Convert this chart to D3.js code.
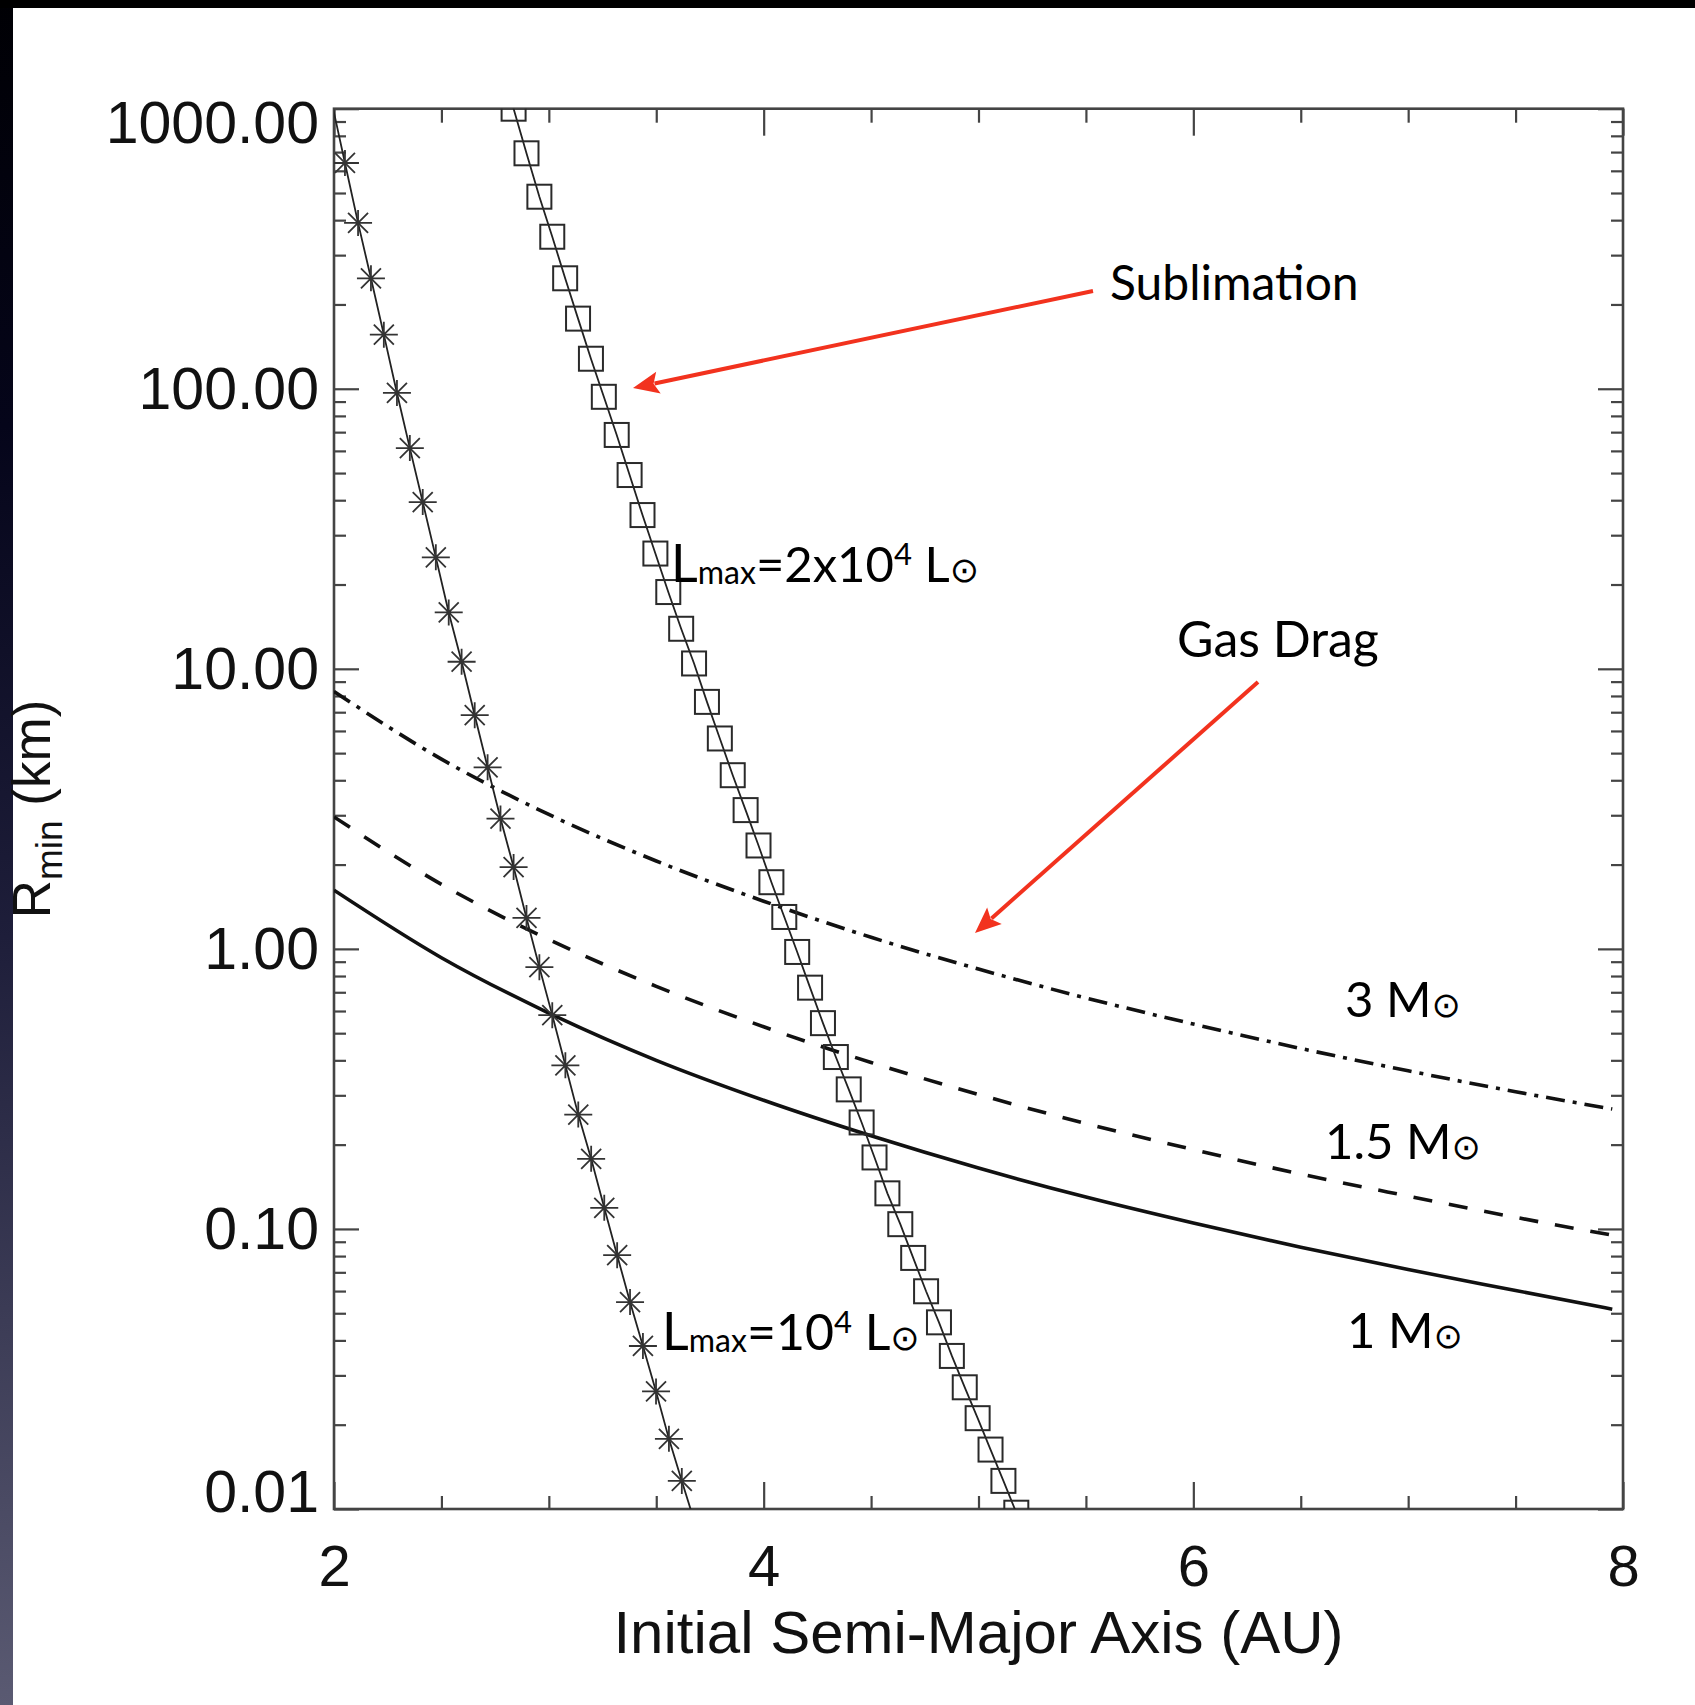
<!DOCTYPE html>
<html><head><meta charset="utf-8">
<script src="https://cdn.jsdelivr.net/npm/d3@7"></script>
<style>html,body{margin:0;padding:0;background:#fff;overflow:hidden}</style>
</head><body>
<svg id="chart" width="1695" height="1705"></svg>
<script>
// ---------------- data ----------------
const xMajorTicks = [2, 4, 6, 8];
const xTickLabels = ["2", "4", "6", "8"];
const xMinorTicks = [2.5, 3, 3.5, 4.5, 5, 5.5, 6.5, 7, 7.5];
const yMajorTicks = [0.01, 0.1, 1, 10, 100, 1000];
const yTickLabels = ["0.01", "0.10", "1.00", "10.00", "100.00", "1000.00"];

// gas drag curves
const gasA   = [2.0, 2.5, 3.0, 3.5, 4.0, 4.5, 5.0, 5.5, 6.0, 6.5, 7.0, 7.5, 7.95];
const gas1M  = [1.62, 0.93, 0.59, 0.40, 0.288, 0.215, 0.165, 0.130, 0.105, 0.086, 0.0716, 0.0603, 0.0517];
const gas15M = [2.96, 1.70, 1.08, 0.735, 0.527, 0.393, 0.302, 0.238, 0.192, 0.157, 0.131, 0.110, 0.095];
const gas3M  = [8.3, 4.76, 3.02, 2.06, 1.48, 1.10, 0.847, 0.668, 0.539, 0.441, 0.367, 0.309, 0.268];

// sublimation, Lmax = 1e4 Lsun (asterisks)
const sub1A = [2.051, 2.112, 2.172, 2.232, 2.293, 2.353, 2.413, 2.474, 2.534, 2.594, 2.655, 2.715, 2.775, 2.836,
               2.896, 2.956, 3.016, 3.077, 3.137, 3.197, 3.258, 3.318, 3.378, 3.438, 3.499, 3.559, 3.619];
const sub1R = [640, 391, 248, 156, 96.6, 61.4, 39.4, 25.0, 15.9, 10.6, 6.83, 4.45, 2.92, 1.96,
               1.29, 0.860, 0.580, 0.384, 0.256, 0.178, 0.119, 0.0806, 0.0548, 0.0382, 0.0263, 0.0178, 0.0126];
const sub1LineEndsA = [1.99, 3.68];
const sub1LineEndsR = [1050, 0.0089];

// sublimation, Lmax = 2e4 Lsun (squares)
const sub2A = [2.836, 2.896, 2.956, 3.016, 3.076, 3.136, 3.196, 3.256, 3.316, 3.376, 3.436, 3.496, 3.556, 3.616,
               3.676, 3.736, 3.796, 3.856, 3.916, 3.976, 4.036, 4.096, 4.156, 4.216, 4.276, 4.336, 4.396, 4.456,
               4.516, 4.576, 4.636, 4.696, 4.756, 4.816, 4.876, 4.936, 4.996, 5.056, 5.116, 5.176];
const sub2R = [1000, 693, 485, 349, 248, 178, 128, 93.6, 68.4, 49.2, 35.4, 25.8, 18.8, 13.9,
               10.45, 7.62, 5.64, 4.17, 3.13, 2.34, 1.73, 1.30, 0.975, 0.727, 0.543, 0.411, 0.315, 0.240,
               0.180, 0.134, 0.104, 0.0788, 0.0599, 0.0464, 0.0352, 0.0272, 0.0211, 0.0163, 0.0126, 0.0097];
const sub2LineEndsA = [2.776, 5.236];
const sub2LineEndsR = [1445, 0.0075];

// ---------------- layout ----------------
const svg = d3.select("#chart");
const L = 334, R = 1623, T = 108.7, B = 1509;
const x = d3.scaleLinear().domain([2, 8]).range([L, R]);
const y = d3.scaleLog().domain([0.01, 1000]).range([B, T]);
const AXC = "#444";

// background frame
const defs = svg.append("defs");
const lg = defs.append("linearGradient").attr("id", "leftgrad").attr("x1", 0).attr("y1", 0).attr("x2", 0).attr("y2", 1);
lg.append("stop").attr("offset", "0%").attr("stop-color", "#000004");
lg.append("stop").attr("offset", "25%").attr("stop-color", "#05051a");
lg.append("stop").attr("offset", "55%").attr("stop-color", "#1e1e3a");
lg.append("stop").attr("offset", "100%").attr("stop-color", "#5a5a72");
svg.append("rect").attr("width", 1695).attr("height", 1705).attr("fill", "#fff");
svg.append("rect").attr("x", 0).attr("y", 0).attr("width", 13).attr("height", 1705).attr("fill", "url(#leftgrad)");
svg.append("rect").attr("x", 0).attr("y", 0).attr("width", 1695).attr("height", 8).attr("fill", "#000");

defs.append("clipPath").attr("id", "plotclip").append("rect")
  .attr("x", L).attr("y", T).attr("width", R - L).attr("height", B - T);

// minor y ticks
const yMinor = [];
yMajorTicks.slice(0, -1).forEach(d => { for (let k = 2; k <= 9; k++) yMinor.push(+(d * k).toPrecision(3)); });

function ticks(gen, vals, size, tr) {
  const g = svg.append("g").attr("transform", tr)
    .call(gen.tickValues(vals).tickSize(size).tickFormat(""));
  g.select(".domain").remove();
  g.selectAll("line").attr("stroke", AXC).attr("stroke-width", 2.2);
  g.selectAll("text").remove();
}
ticks(d3.axisRight(y), yMajorTicks, 25, `translate(${L},0)`);
ticks(d3.axisRight(y), yMinor, 12, `translate(${L},0)`);
ticks(d3.axisLeft(y), yMajorTicks, 25, `translate(${R},0)`);
ticks(d3.axisLeft(y), yMinor, 12, `translate(${R},0)`);
ticks(d3.axisTop(x), xMajorTicks, 27, `translate(0,${B})`);
ticks(d3.axisTop(x), xMinorTicks, 13, `translate(0,${B})`);
ticks(d3.axisBottom(x), xMajorTicks, 27, `translate(0,${T})`);
ticks(d3.axisBottom(x), xMinorTicks, 14, `translate(0,${T})`);

// frame box
svg.append("rect").attr("x", L).attr("y", T).attr("width", R - L).attr("height", B - T)
  .attr("fill", "none").attr("stroke", AXC).attr("stroke-width", 2.6);

// tick labels
const yl = svg.append("g").attr("transform", `translate(${L},0)`)
  .call(d3.axisLeft(y).tickValues(yMajorTicks).tickSize(0).tickPadding(15)
    .tickFormat((d, i) => yTickLabels[i]));
yl.select(".domain").remove();
yl.selectAll("text").attr("font-family", "'Liberation Sans', Arial, sans-serif")
  .attr("font-size", 59).attr("fill", "#111")
  .attr("dy", d => d === 1000 ? "0.57em" : d === 0.01 ? "0.05em" : "0.33em");

const xl = svg.append("g").attr("transform", `translate(0,${B})`)
  .call(d3.axisBottom(x).tickValues(xMajorTicks).tickSize(0).tickPadding(36)
    .tickFormat((d, i) => xTickLabels[i]));
xl.select(".domain").remove();
xl.selectAll("text").attr("font-family", "'Liberation Sans', Arial, sans-serif")
  .attr("font-size", 58).attr("fill", "#111");

// axis titles
svg.append("text").attr("x", (L + R) / 2).attr("y", 1653).attr("text-anchor", "middle")
  .attr("font-family", "'Liberation Sans', Arial, sans-serif").attr("font-size", 60).attr("fill", "#111")
  .text("Initial Semi-Major Axis (AU)");
const yt = svg.append("text").attr("transform", "translate(50,809) rotate(-90)").attr("text-anchor", "middle")
  .attr("font-family", "'Liberation Sans', Arial, sans-serif").attr("font-size", 53).attr("fill", "#111");
yt.append("tspan").text("R");
yt.append("tspan").attr("font-size", 37).attr("dy", 12).text("min");
yt.append("tspan").attr("dy", -12).text(" (km)");

// ---------------- data marks ----------------
const plot = svg.append("g").attr("clip-path", "url(#plotclip)");
const lineGen = d3.line().x(d => x(d[0])).y(d => y(d[1])).curve(d3.curveMonotoneX);

function gasCurve(vals, dash) {
  plot.append("path").datum(gasA.map((a, i) => [a, vals[i]]))
    .attr("d", lineGen).attr("fill", "none").attr("stroke", "#111").attr("stroke-width", 3.6)
    .attr("stroke-dasharray", dash);
}
gasCurve(gas1M, null);
gasCurve(gas15M, "19,17");
gasCurve(gas3M, "19,8,4,8");

const straight = d3.line().x(d => x(d[0])).y(d => y(d[1]));
function subLine(A, Rv, EA, ER) {
  const pts = [[EA[0], ER[0]]].concat(A.map((a, i) => [a, Rv[i]])).concat([[EA[1], ER[1]]]);
  plot.append("path").datum(pts).attr("d", straight).attr("fill", "none")
    .attr("stroke", "#222").attr("stroke-width", 1.8);
}
subLine(sub1A, sub1R, sub1LineEndsA, sub1LineEndsR);
subLine(sub2A, sub2R, sub2LineEndsA, sub2LineEndsR);

// asterisks
plot.selectAll("path.ast").data(sub1A.map((a, i) => [a, sub1R[i]])).enter().append("path")
  .attr("class", "ast")
  .attr("transform", d => `translate(${x(d[0])},${y(d[1])})`)
  .attr("d", "M-14,0L14,0M0,-13L0,13M-10,-10L10,10M-10,10L10,-10")
  .attr("stroke", "#333").attr("stroke-width", 1.8).attr("fill", "none");

// squares
const S = 24;
plot.selectAll("rect.sq").data(sub2A.map((a, i) => [a, sub2R[i]])).enter().append("rect")
  .attr("class", "sq")
  .attr("x", d => x(d[0]) - S / 2).attr("y", d => y(d[1]) - S / 2)
  .attr("width", S).attr("height", S)
  .attr("fill", "none").attr("stroke", "#2a2a2a").attr("stroke-width", 2);

// ---------------- annotations ----------------
const FONT = "Lato, 'Noto Sans', sans-serif";
function sunLabel(px, py, parts) {
  const t = svg.append("text").attr("x", px).attr("y", py).attr("font-family", FONT).attr("fill", "#000");
  parts.forEach(p => {
    const s = t.append("tspan").text(p.t).attr("font-size", p.fs || 49);
    if (p.dy) s.attr("dy", p.dy);
    if (p.ff) s.attr("font-family", p.ff);
  });
  return t;
}
const SUN = "⊙";
const SUNF = "'DejaVu Sans', sans-serif";
const SUNFS = 35;
sunLabel(1345, 1017, [{t: "3 M"}, {t: SUN, fs: SUNFS, ff: SUNF}]);
sunLabel(1325, 1159, [{t: "1.5 M"}, {t: SUN, fs: SUNFS, ff: SUNF}]);
sunLabel(1347, 1348, [{t: "1 M"}, {t: SUN, fs: SUNFS, ff: SUNF}]);

sunLabel(671, 582, [{t: "L", fs: 52}, {t: "max", fs: 32, dy: 2}, {t: "=2x10", fs: 49, dy: -2},
                    {t: "4", fs: 31, dy: -17}, {t: " L", fs: 49, dy: 17}, {t: SUN, fs: SUNFS, ff: SUNF}]);
sunLabel(662, 1350, [{t: "L", fs: 52}, {t: "max", fs: 32, dy: 2}, {t: "=10", fs: 50, dy: -2},
                     {t: "4", fs: 31, dy: -17}, {t: " L", fs: 50, dy: 17}, {t: SUN, fs: SUNFS, ff: SUNF}]);

svg.append("text").attr("x", 1110).attr("y", 300).attr("font-family", FONT).attr("font-size", 48)
  .attr("fill", "#000").text("Sublimation");
svg.append("text").attr("x", 1177).attr("y", 657).attr("font-family", FONT).attr("font-size", 50)
  .attr("fill", "#000").text("Gas Drag");

// red arrows
const RED = "#f2321e";
function arrow(x1, y1, x2, y2) {
  const len = Math.hypot(x2 - x1, y2 - y1), ux = (x2 - x1) / len, uy = (y2 - y1) / len;
  const hl = 26, hw = 11;
  const bx = x2 - ux * hl, by = y2 - uy * hl;
  svg.append("line").attr("x1", x1).attr("y1", y1).attr("x2", bx + ux * 4).attr("y2", by + uy * 4)
    .attr("stroke", RED).attr("stroke-width", 4);
  svg.append("path").attr("d",
    `M${x2},${y2}L${bx - uy * hw},${by + ux * hw}L${bx + ux * 5},${by + uy * 5}L${bx + uy * hw},${by - ux * hw}Z`)
    .attr("fill", RED);
}
arrow(1093, 291, 633, 388);
arrow(1258, 682, 975, 933);
</script>
</body></html>
